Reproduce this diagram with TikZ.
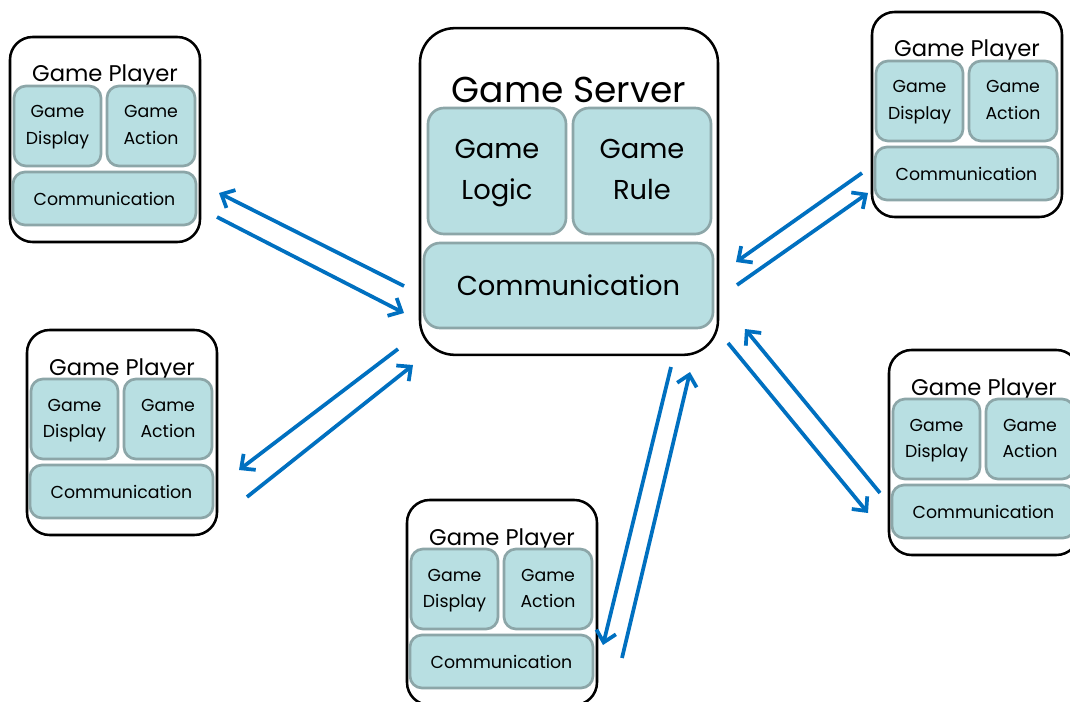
\documentclass[tikz,border=0pt]{standalone}
\usepackage{fontspec}
\setmainfont{Poppins}
\usetikzlibrary{arrows.meta}

\definecolor{cellfill}{RGB}{184,223,226}
\definecolor{celldraw}{RGB}{140,166,168}
\definecolor{linkblue}{RGB}{0,112,192}

\tikzset{
  outerbox/.style={draw=black,line width=1.9pt,fill=white,rounded corners=17pt,inner sep=0pt},
  cell/.style={draw=celldraw,line width=2pt,fill=cellfill,rounded corners=9pt,align=center,inner sep=0pt},
  smalltxt/.style={font=\fontsize{13}{20}\selectfont},
  bigtxt/.style={font=\fontsize{20.5}{31}\selectfont},
  link/.style={linkblue,line width=2.8pt,-{Straight Barb[length=8pt,width=15pt]}}
}

\begin{document}
\begin{tikzpicture}[x=0.75pt,y=-0.75pt]
  \clip (0,0) rectangle (1070,702);
  \useasboundingbox (0,0) rectangle (1070,702);

  % server
  \node[outerbox,rounded corners=26pt,minimum width=223.5pt,minimum height=245pt] (srv) at (569,191.5) {};
  \node[anchor=base,font=\fontsize{27}{30}\selectfont] (srv-title) at (569,103) {Game Server};
  \node[cell,bigtxt,rounded corners=12pt,minimum width=103.5pt,minimum height=94.5pt] (srv-logic) at (497,171) {\strut Game\\\strut Logic};
  \node[cell,bigtxt,rounded corners=12pt,minimum width=103.5pt,minimum height=94.5pt] (srv-rule) at (642,171) {\strut Game\\\strut Rule};
  \node[cell,bigtxt,rounded corners=12pt,minimum width=216.75pt,minimum height=63.75pt] (srv-comm) at (568.5,285.5) {Communication};

  % players
  \foreach \n/\x/\y in {pa/10/37, pb/27/330, pc/407/500, pd/872/12, pe/889/350}{
    \begin{scope}[shift={(\x,\y)}]
      \node[outerbox,minimum width=142.5pt,minimum height=153.75pt] (\n-box) at (95,102.5) {};
      \node[anchor=base,font=\fontsize{17}{20}\selectfont] (\n-title) at (95,45) {Game Player};
      \node[cell,smalltxt,minimum width=65.25pt,minimum height=60pt] (\n-disp) at (47.5,89) {\strut Game\\\strut Display};
      \node[cell,smalltxt,minimum width=66pt,minimum height=60pt] (\n-act) at (141,89) {\strut Game\\\strut Action};
      \node[cell,smalltxt,minimum width=137.25pt,minimum height=39.75pt] (\n-comm) at (94.5,161.5) {Communication};
    \end{scope}
  }

  % link ends
  \coordinate (sa1) at (404,286); \coordinate (pa1) at (219,193);
  \coordinate (pa2) at (217,217); \coordinate (sa2) at (404,313);
  \coordinate (sb1) at (398,349); \coordinate (pb1) at (239,470);
  \coordinate (pb2) at (247,497); \coordinate (sb2) at (413,365);
  \coordinate (sc1) at (671,367); \coordinate (pc1) at (603,645);
  \coordinate (pc2) at (622,658); \coordinate (sc2) at (690,372);
  \coordinate (sd1) at (737,285); \coordinate (pd1) at (868,193);
  \coordinate (pd2) at (862,173); \coordinate (sd2) at (736,262);
  \coordinate (se1) at (728,343); \coordinate (pe1) at (868,513);
  \coordinate (pe2) at (880,493); \coordinate (se2) at (745,329);

  \foreach \n in {a,b,c,d,e}{
    \draw[link] (s\n1) -- (p\n1);
    \draw[link] (p\n2) -- (s\n2);
  }
\end{tikzpicture}
\end{document}
